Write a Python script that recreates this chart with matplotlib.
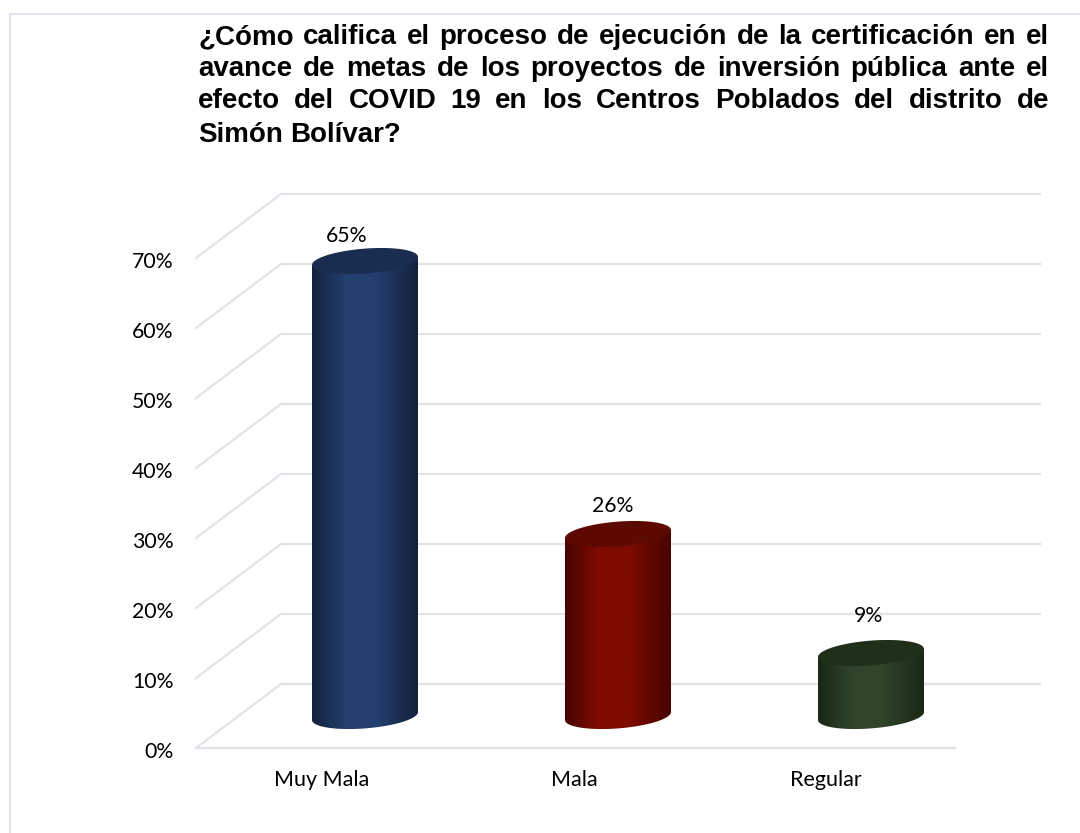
import numpy as np
import matplotlib
matplotlib.use('Agg')
import matplotlib.pyplot as plt
from matplotlib.colors import LinearSegmentedColormap
from matplotlib.lines import Line2D
from matplotlib.patches import Polygon
from matplotlib.transforms import ScaledTranslation

categorias = ['Muy Mala', 'Mala', 'Regular']
valores = [65, 26, 9]
etiquetas = ['65%', '26%', '9%']
ticks_y = [0, 10, 20, 30, 40, 50, 60, 70]
titulo = ['¿Cómo califica el proceso de ejecución de la certificación en el',
          'avance de metas de los proyectos de inversión pública ante el',
          'efecto del COVID 19 en los Centros Poblados del distrito de',
          'Simón Bolívar?']

# borde, centro y tapa de cada cilindro
colores_borde = ['#14213d', '#470500', '#1a2815']
colores_centro = ['#233f6e', '#7f0b00', '#30452a']
colores_tapa = ['#1a2c50', '#5c0a00', '#1f2f1a']

W, H = 1080, 833
fig = plt.figure(figsize=(W / 100, H / 100), dpi=100)
fig.patch.set_facecolor('white')
plt.rcParams['font.family'] = 'Lato'

# eje frontal: 253 px por categoria, 7 px por punto
ax = fig.add_axes([196 / W, 1 - 748 / H, 759 / W, 490 / H])
ax.set_xlim(0, 3)
ax.set_ylim(0, 70)
ax.patch.set_alpha(0)
for s in ax.spines.values():
    s.set_visible(False)

# profundidad del "3D"
prof_x = 85 / 253
prof_y = 64 / 7
gris = '#e0e3ea'

for v in ticks_y:
    ax.plot([0, prof_x, 3 + prof_x], [v, v + prof_y, v + prof_y], color=gris, lw=1.6,
            clip_on=False, zorder=1, solid_joinstyle='miter')
ax.plot([0, 3], [0, 0], color=gris, lw=1.6, clip_on=False, zorder=1)

# elipse del cilindro (inclinada)
a = 53 / 253
b = 12.4 / 7
inc = 4 / 7
t = np.linspace(0, 2 * np.pi, 200)


def elipse(cx, cy):
    return np.column_stack([cx + a * np.cos(t), cy + b * np.sin(t) + inc * np.cos(t)])


desp_etiqueta = [(-18, 25), (-5, 28), (-2, 37)]

for i, v in enumerate(valores):
    cx = i + 0.5 + prof_x / 2
    base = prof_y / 2
    tope = base + v
    # cuerpo: elipse de base + elipse de tapa
    t2 = np.linspace(0, np.pi, 100)
    inf = np.column_stack([cx + a * np.cos(t2), base - b * np.sin(t2) + inc * np.cos(t2)])
    sup = np.column_stack([cx - a * np.cos(t2), tope + inc * -np.cos(t2)])
    cuerpo = Polygon(np.vstack([inf, sup]), closed=True, transform=ax.transData, fc='none', ec='none')
    ax.add_patch(cuerpo)
    cmap = LinearSegmentedColormap.from_list('c', [(0, colores_borde[i]), (0.32, colores_centro[i]),
                                                   (0.6, colores_centro[i]), (1, colores_borde[i])])
    grad = np.linspace(0, 1, 256).reshape(1, -1)
    im = ax.imshow(grad, cmap=cmap, aspect='auto', extent=[cx - a, cx + a, base - 5, tope + 5],
                   zorder=3, interpolation='bilinear')
    im.set_clip_path(cuerpo)
    im.set_clip_on(True)
    ax.add_patch(Polygon(elipse(cx, tope), closed=True, fc=colores_tapa[i], ec='none', zorder=4, clip_on=False))
    ax.annotate(etiquetas[i], (cx, tope), xytext=(desp_etiqueta[i][0] * 0.72, desp_etiqueta[i][1] * 0.72),
                textcoords='offset points', ha='center', va='center', fontsize=15.3, color='black', zorder=5,
                annotation_clip=False)

ax.set_xlim(0, 3)
ax.set_ylim(0, 70)
ax.set_xticks([i + 0.5 for i in range(len(categorias))])
ax.set_xticklabels(categorias)
ax.set_yticks(ticks_y)
ax.set_yticklabels([f'{v}%' for v in ticks_y])
ax.tick_params(axis='x', length=0, pad=16, labelsize=15.5)
ax.tick_params(axis='y', length=0, pad=16, labelsize=15.3)

# ajuste fino de etiquetas (px)
for lab in ax.get_yticklabels():
    lab.set_transform(lab.get_transform() + ScaledTranslation(0, -2 / 100, fig.dpi_scale_trans))
for lab, dx in zip(ax.get_xticklabels(), [-0.5, -1.5, -3]):
    lab.set_transform(lab.get_transform() + ScaledTranslation(dx / 100, 0, fig.dpi_scale_trans))

# marco de la pagina
fig.add_artist(Line2D([10 / W, 10 / W, 1], [0, 1 - 14 / H, 1 - 14 / H], color='#e3e6ee', lw=1.5))

# titulo justificado, palabra por palabra
rend = fig.canvas.get_renderer()
x0, x1 = 198, 1049
y_lineas = [37, 69, 101, 135]
for n, linea in enumerate(titulo):
    palabras = linea.split(' ')
    textos = [fig.text(0, 1 - y_lineas[n] / H, p, fontsize=20, fontweight='bold', family='Liberation Sans',
                       va='center', ha='left', color='black') for p in palabras]
    anchos = [tx.get_window_extent(rend).width for tx in textos]
    if n < len(titulo) - 1:
        hueco = (x1 - x0 - sum(anchos)) / (len(palabras) - 1)
    else:
        hueco = 7.5
    x = x0
    for tx, w in zip(textos, anchos):
        tx.set_x(x / W)
        x += w + hueco

fig.savefig('out.png', dpi=100)
